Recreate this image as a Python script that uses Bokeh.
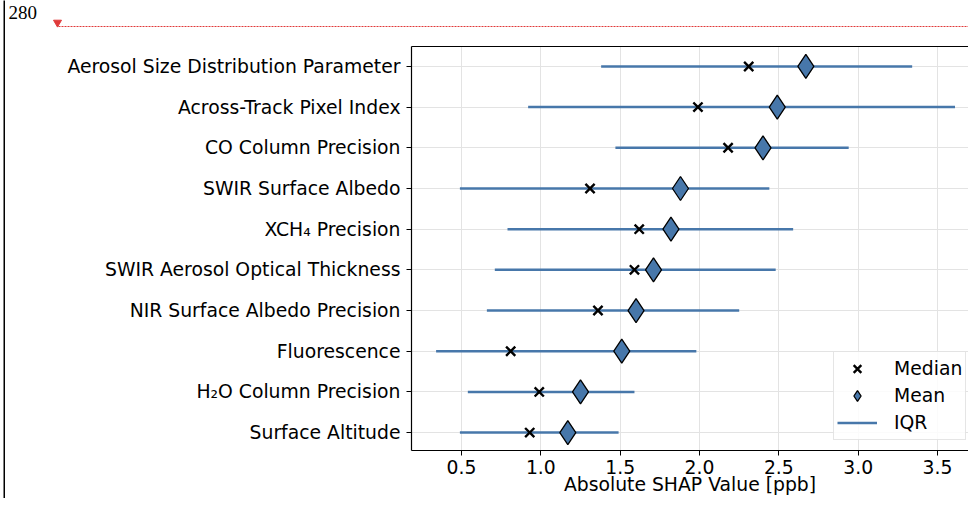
from bokeh.plotting import figure
from bokeh.layouts import column, row
from bokeh.models import (ColumnDataSource, FixedTicker, LinearAxis, Legend, LegendItem,
                          Range1d, PrintfTickFormatter, Spacer)
from bokeh.core.properties import value
from bokeh.embed import file_html
from bokeh.resources import INLINE

features = ["Surface Altitude", "H\u2082O Column Precision", "Fluorescence",
            "NIR Surface Albedo Precision", "SWIR Aerosol Optical Thickness",
            "XCH\u2084 Precision", "SWIR Surface Albedo", "CO Column Precision",
            "Across-Track Pixel Index", "Aerosol Size Distribution Parameter"]
q1 = [0.49, 0.54, 0.34, 0.66, 0.71, 0.79, 0.49, 1.47, 0.92, 1.38]
q3 = [1.49, 1.59, 1.98, 2.25, 2.48, 2.59, 2.44, 2.94, 3.61, 3.34]
median = [0.93, 0.99, 0.81, 1.36, 1.59, 1.62, 1.31, 2.18, 1.99, 2.31]
mean = [1.17, 1.25, 1.51, 1.60, 1.71, 1.82, 1.88, 2.40, 2.49, 2.67]
x_ticks = [0.5, 1.0, 1.5, 2.0, 2.5, 3.0, 3.5]
x_label = "Absolute SHAP Value [ppb]"
marker_note = ["280"]

ypos = list(range(len(features)))
src = ColumnDataSource(dict(y=ypos, q1=q1, q3=q3, median=median, mean=mean))

FONT = "DejaVu Sans"
BLUE = "#4777aa"
RED = "#e03a3a"
MAIN_W, TOP_H, MAIN_H, TOTAL_H = 960, 44, 454, 498


def bare(w, h, x0=0):
    f = figure(width=w, height=h, output_backend="svg", toolbar_location=None,
               x_range=Range1d(x0, x0 + w), y_range=Range1d(h, 0),
               x_axis_type=None, y_axis_type=None, min_border=0)
    f.outline_line_color = None
    f.grid.visible = False
    return f


# ---- left rule (full height) ----
rule = bare(2, TOTAL_H)
rule.border_fill_color = "black"
rule.background_fill_color = "black"

# ---- top strip (page marker) ----
top_strip = bare(MAIN_W, TOP_H, x0=8)
top_strip.text(x=[8], y=[5], text=marker_note, text_font=value("Liberation Serif"),
               text_font_size="19px", text_color="black", text_baseline="top")
top_strip.segment(x0=[58], x1=[968], y0=[26], y1=[26], line_color=RED,
                  line_width=1, line_dash="2 1")
top_strip.scatter(x=[57], y=[22], marker="inverted_triangle", size=8,
                  fill_color=RED, line_color=RED)

# ---- main chart ----
p = figure(width=MAIN_W, height=MAIN_H, output_backend="svg",
           toolbar_location=None,
           x_range=Range1d(0.185, 3.695), y_range=Range1d(-0.44, 9.49),
           min_border_left=403, min_border_right=0, min_border_top=2,
           min_border_bottom=48)
p.outline_line_color = None

xa = p.xaxis[0]
xa.ticker = FixedTicker(ticks=x_ticks)
xa.formatter = PrintfTickFormatter(format="%.1f")
xa.axis_label = x_label
ya = p.yaxis[0]
ya.ticker = FixedTicker(ticks=ypos)
ya.major_label_overrides = {i: f for i, f in enumerate(features)}
for ax in (xa, ya):
    ax.major_label_text_font = FONT
    ax.major_label_text_font_size = "18.8px"
    ax.major_label_text_color = "black"
    ax.axis_label_text_font = FONT
    ax.axis_label_text_font_size = "18.8px"
    ax.axis_label_text_font_style = "normal"
    ax.axis_label_text_color = "black"
    ax.axis_line_color = "black"
    ax.axis_line_width = 1.2
    ax.major_tick_line_color = "black"
    ax.major_tick_in = 0
    ax.major_tick_out = 5
    ax.minor_tick_line_color = None
xa.axis_label_standoff = -3
xa.major_label_standoff = 4
ya.major_label_standoff = 6

top_axis = LinearAxis(ticker=FixedTicker(ticks=[]), major_tick_line_color=None,
                      minor_tick_line_color=None, axis_line_color="black",
                      axis_line_width=1.2, major_label_standoff=0)
p.add_layout(top_axis, "above")

p.xgrid.ticker = FixedTicker(ticks=x_ticks)
p.ygrid.ticker = FixedTicker(ticks=ypos)
p.grid.grid_line_color = "#e3e3e3"
p.grid.grid_line_width = 1

r_iqr = p.segment(x0="q1", x1="q3", y0="y", y1="y", source=src,
                  line_color=BLUE, line_width=2.5)
r_med = p.scatter(x="median", y="y", source=src, marker="x", size=13,
                  line_color="black", line_width=2.4)
r_mean = p.scatter(x="mean", y="y", source=src, marker="diamond", size=24,
                   fill_color=BLUE, line_color="black", line_width=1.3)

legend = Legend(items=[LegendItem(label="Median", renderers=[r_med]),
                       LegendItem(label="Mean", renderers=[r_mean]),
                       LegendItem(label="IQR", renderers=[r_iqr])],
                location=(422, 10))
legend.label_text_font = FONT
legend.label_text_font_size = "18.8px"
legend.label_text_color = "black"
legend.border_line_color = "#cccccc"
legend.border_line_width = 1
legend.background_fill_alpha = 0.85
legend.glyph_width = 40
legend.glyph_height = 27
legend.label_height = 27
legend.spacing = 0
legend.padding = 3
legend.margin = 0
legend.label_standoff = 17
p.add_layout(legend, "center")

layout = row(Spacer(width=3, height=TOTAL_H), rule, Spacer(width=3, height=TOTAL_H),
             column(top_strip, row(p, spacing=0), spacing=0), spacing=0)
open("out.html", "w").write(file_html(layout, INLINE))
